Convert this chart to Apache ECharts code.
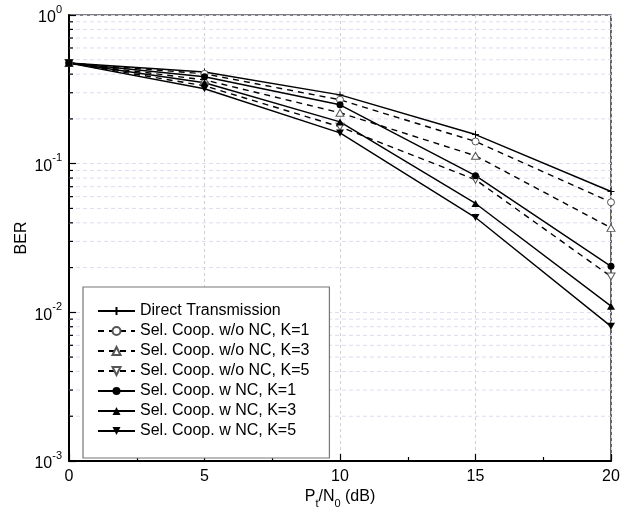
<!DOCTYPE html>
<html>
<head>
<meta charset="utf-8">
<script src="https://cdn.jsdelivr.net/npm/echarts@6/dist/echarts.min.js"></script>
<style>html,body{margin:0;padding:0;background:#fff}#c{width:638px;height:515px}</style>
</head>
<body>
<div id="c"></div>
<script>
// ---- data ----
const snr = [0, 5, 10, 15, 20];
const seriesNames = [
  'Direct Transmission',
  'Sel. Coop. w/o NC, K=1',
  'Sel. Coop. w/o NC, K=3',
  'Sel. Coop. w/o NC, K=5',
  'Sel. Coop. w NC, K=1',
  'Sel. Coop. w NC, K=3',
  'Sel. Coop. w NC, K=5'
];
const direct = [0.475, 0.414, 0.290, 0.157, 0.065];
const woNcK1 = [0.475, 0.402, 0.269, 0.141, 0.055];
const woNcK3 = [0.475, 0.366, 0.220, 0.113, 0.037];
const woNcK5 = [0.475, 0.334, 0.177, 0.078, 0.0174];
const wNcK1 = [0.475, 0.384, 0.249, 0.083, 0.0204];
const wNcK3 = [0.475, 0.350, 0.191, 0.054, 0.011];
const wNcK5 = [0.475, 0.319, 0.161, 0.0434, 0.00805];
const xTicks = [0, 5, 10, 15, 20];
const yMinorTicks = [];
[0.001, 0.01, 0.1].forEach(d => { for (let m = 2; m <= 9; m++) yMinorTicks.push(+(d * m).toPrecision(3)); });

const FONT = '"Liberation Sans", Arial, sans-serif';
const plusPath = 'path://M5,0L5,10M0,5L10,5';
const triDown = 'path://M0,0L10,0L5,9Z';
const triUp = 'path://M5,0L10,9L0,9Z';

function mk(name, vals, opt) {
  return Object.assign({
    name: name,
    type: 'line',
    data: snr.map((x, i) => [x, vals[i]]),
    showSymbol: true,
    symbolSize: 7,
    z: 3,
    lineStyle: { color: '#000', width: 1.4, type: opt.dashed ? [6, 5] : 'solid' },
    itemStyle: opt.open ? { color: '#fff', borderColor: '#555', borderWidth: 1 } : { color: '#000', borderColor: '#000', borderWidth: 0 },
    emphasis: { disabled: true },
    animation: false
  }, opt.extra || {});
}

const chart = echarts.init(document.getElementById('c'));
chart.setOption({
  animation: false,
  backgroundColor: '#fff',
  textStyle: { fontFamily: FONT },
  grid: { left: 69, right: 27, top: 15, bottom: 54, outerBoundsMode: 'none', containLabel: false,
    show: true, borderColor: '#000', borderWidth: 1.2, backgroundColor: 'transparent' },
  legend: {
    data: seriesNames,
    orient: 'vertical',
    left: 83, top: 287,
    backgroundColor: '#fff',
    borderColor: '#777', borderWidth: 1.2,
    padding: [16, 20, 19, 14],
    itemWidth: 37, itemHeight: 10, itemGap: 4,
    textStyle: { fontSize: 16, color: '#000', fontFamily: FONT, lineHeight: 16 },
    selectedMode: false
  },
  xAxis: {
    type: 'value', min: 0, max: 20, interval: 5,
    name: '{n|P}{s|t}{n|/N}{s|0}{n| (dB)}',
    nameLocation: 'middle', nameGap: 28, nameMoveOverlap: false,
    nameTextStyle: { rich: {
      n: { fontSize: 16, color: '#000', fontFamily: FONT, verticalAlign: 'top', lineHeight: 20 },
      s: { fontSize: 11, color: '#000', fontFamily: FONT, verticalAlign: 'bottom', lineHeight: 20, padding: [6, 0, 0, 0] }
    } },
    axisLine: { lineStyle: { color: '#000', width: 2 } },
    axisTick: { inside: true, length: 7, lineStyle: { color: '#000', width: 1.2 } },
    minorTick: { show: true, splitNumber: 2, length: 4, lineStyle: { color: '#000', width: 1.2 } },
    axisLabel: { fontSize: 16, color: '#000', margin: 8, fontFamily: FONT,
      customValues: xTicks },
    splitLine: { show: true, lineStyle: { color: '#d0d0d0', type: [3, 3], width: 1 } }
  },
  yAxis: {
    type: 'log', logBase: 10, min: 0.001, max: 1,
    name: 'BER', nameLocation: 'middle', nameGap: 39, nameMoveOverlap: false,
    nameTextStyle: { fontSize: 16, color: '#000', fontFamily: FONT },
    axisLine: { lineStyle: { color: '#000', width: 2 } },
    axisTick: { inside: true, length: 7, lineStyle: { color: '#000', width: 1.2 } },
    axisLabel: {
      margin: 7,
      formatter: v => '{b|10}{s|' + Math.round(Math.log10(v)) + '}',
      rich: {
        b: { fontSize: 16, color: '#000', fontFamily: FONT, verticalAlign: 'bottom', lineHeight: 22 },
        s: { fontSize: 11, color: '#000', fontFamily: FONT, verticalAlign: 'top', lineHeight: 22 }
      }
    },
    splitLine: { show: true, lineStyle: { color: '#dcdcf2', type: [4, 3], width: 1 } }
  },
  series: [
    {
      type: 'custom', name: 'minor', coordinateSystem: 'cartesian2d', z: 1, silent: true,
      data: yMinorTicks.map(v => [0, v]),
      renderItem: function (params, api) {
        const v = api.value(1);
        const p0 = api.coord([0, v]);
        const p1 = api.coord([20, v]);
        return { type: 'group', children: [
          { type: 'line', shape: { x1: p0[0], y1: p0[1], x2: p1[0], y2: p1[1] },
            style: { stroke: '#dcdcf2', lineWidth: 1, lineDash: [4, 3] } },
          { type: 'line', shape: { x1: p0[0], y1: p0[1], x2: p0[0] + 4, y2: p0[1] },
            style: { stroke: '#000', lineWidth: 1.2 } }
        ] };
      },
      animation: false
    },
    mk(seriesNames[0], direct, { extra: { symbol: plusPath, symbolSize: 7, itemStyle: { color: 'none', borderColor: '#000', borderWidth: 1 } } }),
    mk(seriesNames[1], woNcK1, { dashed: true, open: true, extra: { symbol: 'circle', symbolSize: 7 } }),
    mk(seriesNames[2], woNcK3, { dashed: true, open: true, extra: { symbol: triUp, symbolSize: [8, 7] } }),
    mk(seriesNames[3], woNcK5, { dashed: true, open: true, extra: { symbol: triDown, symbolSize: [8, 7] } }),
    mk(seriesNames[4], wNcK1, { extra: { symbol: 'circle', symbolSize: 7 } }),
    mk(seriesNames[5], wNcK3, { extra: { symbol: triUp, symbolSize: [8, 7] } }),
    mk(seriesNames[6], wNcK5, { extra: { symbol: triDown, symbolSize: [8, 7] } })
  ]
});
</script>
</body>
</html>
